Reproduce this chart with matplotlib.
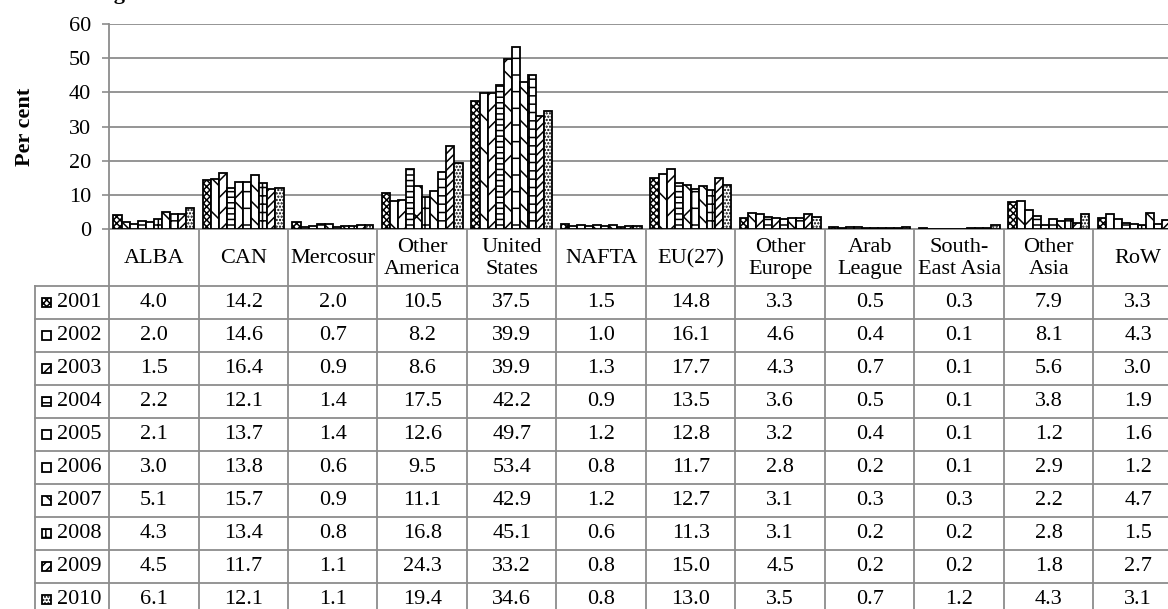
import matplotlib
matplotlib.use("Agg")
import matplotlib.pyplot as plt
import matplotlib.transforms as mtransforms
from matplotlib.patches import Rectangle

W, H = 1168, 609

regions = ["ALBA", "CAN", "Mercosur", "Other\nAmerica", "United\nStates", "NAFTA",
           "EU(27)", "Other\nEurope", "Arab\nLeague", "South-\nEast Asia", "Other\nAsia", "RoW"]
years = ["2001", "2002", "2003", "2004", "2005", "2006", "2007", "2008", "2009", "2010"]

share_2001 = [4.0, 14.2, 2.0, 10.5, 37.5, 1.5, 14.8, 3.3, 0.5, 0.3, 7.9, 3.3]
share_2002 = [2.0, 14.6, 0.7, 8.2, 39.9, 1.0, 16.1, 4.6, 0.4, 0.1, 8.1, 4.3]
share_2003 = [1.5, 16.4, 0.9, 8.6, 39.9, 1.3, 17.7, 4.3, 0.7, 0.1, 5.6, 3.0]
share_2004 = [2.2, 12.1, 1.4, 17.5, 42.2, 0.9, 13.5, 3.6, 0.5, 0.1, 3.8, 1.9]
share_2005 = [2.1, 13.7, 1.4, 12.6, 49.7, 1.2, 12.8, 3.2, 0.4, 0.1, 1.2, 1.6]
share_2006 = [3.0, 13.8, 0.6, 9.5, 53.4, 0.8, 11.7, 2.8, 0.2, 0.1, 2.9, 1.2]
share_2007 = [5.1, 15.7, 0.9, 11.1, 42.9, 1.2, 12.7, 3.1, 0.3, 0.3, 2.2, 4.7]
share_2008 = [4.3, 13.4, 0.8, 16.8, 45.1, 0.6, 11.3, 3.1, 0.2, 0.2, 2.8, 1.5]
share_2009 = [4.5, 11.7, 1.1, 24.3, 33.2, 0.8, 15.0, 4.5, 0.2, 0.2, 1.8, 2.7]
share_2010 = [6.1, 12.1, 1.1, 19.4, 34.6, 0.8, 13.0, 3.5, 0.7, 1.2, 4.3, 3.1]
shares = [share_2001, share_2002, share_2003, share_2004, share_2005,
          share_2006, share_2007, share_2008, share_2009, share_2010]

hatches = ["xxxxx", "\\", "//", "---", "x", "+", "\\\\", "++", "////", "....."]

plt.rcParams["font.family"] = ["Liberation Serif", "DejaVu Serif"]
plt.rcParams["hatch.linewidth"] = 1.1
FS = 16
grey = "#8c8c8c"

fig = plt.figure(figsize=(W / 100, H / 100), dpi=100)
# axes: x 109..1183 px (right part is cropped), y 24..229 px
ax = fig.add_axes([109 / W, 1 - 229 / H, 1074 / W, 205 / H])

n = len(years)
bw = 0.09
for j, vals in enumerate(shares):
    xs = [i + (j - (n - 1) / 2) * bw for i in range(len(regions))]
    ax.bar(xs, vals, width=bw, facecolor="white", edgecolor="black",
           linewidth=1.3, hatch=hatches[j], zorder=3)

ax.set_xlim(-0.5, len(regions) - 0.5)
ax.set_ylim(0, 60)
ax.set_yticks(range(0, 61, 10))
ax.tick_params(axis="y", labelsize=FS, length=5, width=1.2, color=grey, pad=8)
ax.set_xticks([])
ax.yaxis.grid(True, color=grey, linewidth=1.3)
ax.set_axisbelow(True)
for s in ["top", "right"]:
    ax.spines[s].set_visible(False)
ax.spines["left"].set_color(grey)
ax.spines["left"].set_linewidth(1.3)
ax.spines["bottom"].set_color(grey)
ax.spines["bottom"].set_linewidth(1.3)

ax.set_ylabel("Per cent", fontsize=FS, fontweight="bold")
ax.yaxis.set_label_coords((35 - 109) / 1074, 0.5)

# title sits mostly above the cropped top edge, as in the source image
fig.text(30 / W, 1 + 1 / H, "Percentage share", fontsize=FS, fontweight="bold",
         ha="left", va="baseline")

# data table below the plot: x in data units, y in pixels from the top
pxt = mtransforms.Affine2D().scale(1, -1).translate(0, H)
tr = mtransforms.blended_transform_factory(ax.transData, pxt)

head_top, head_bot, row_h = 229, 286, 33
x_lab = -0.5 - (109 - 35) / 89.5
x_end = len(regions) - 0.5
bottom = head_bot + row_h * n
lkw = dict(color=grey, linewidth=1.3, transform=tr, clip_on=False)

for i in range(len(regions) + 1):
    ax.plot([i - 0.5, i - 0.5], [head_top, bottom], **lkw)
ax.plot([x_lab, x_lab], [head_bot, bottom], **lkw)
for k in range(n + 1):
    y = head_bot + k * row_h
    ax.plot([x_lab, x_end], [y, y], **lkw)

for i, name in enumerate(regions):
    ax.text(i, (head_top + head_bot) / 2 + 1, name, ha="center", va="center",
            fontsize=FS, linespacing=1.15, transform=tr, clip_on=False)

for k, (yr, vals) in enumerate(zip(years, shares)):
    yc = head_bot + k * row_h + row_h / 2
    for i, v in enumerate(vals):
        ax.text(i, yc, f"{v:.1f}", ha="center", va="center", fontsize=FS,
                transform=tr, clip_on=False)
    ax.text(57 / W, 1 - yc / H, yr, ha="left", va="center", fontsize=FS,
            transform=fig.transFigure)
    fig.add_artist(Rectangle((42 / W, 1 - (yc + 4.5) / H), 9 / W, 9 / H,
                             facecolor="white", edgecolor="black", linewidth=1.3,
                             hatch=hatches[k], transform=fig.transFigure))

fig.savefig("out.png", dpi=100)
